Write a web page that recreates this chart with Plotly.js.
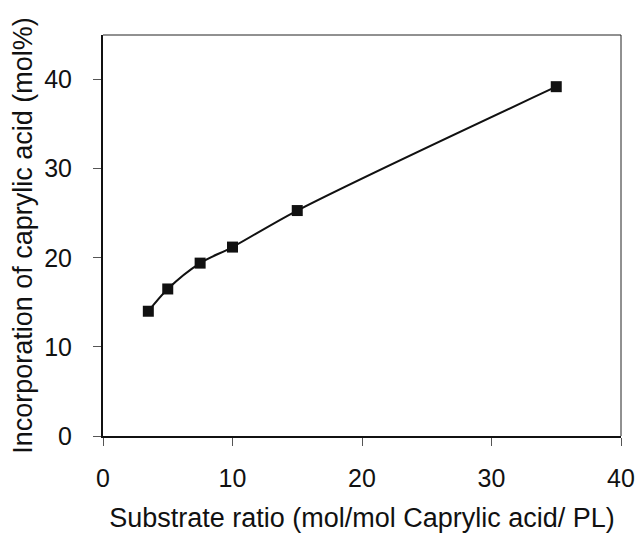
<!DOCTYPE html>
<html>
<head>
<meta charset="utf-8">
<script src="https://cdn.plot.ly/plotly-3.0.1.min.js"></script>
<style>html,body{margin:0;padding:0;background:#fff;}#chart{width:638px;height:535px;}</style>
</head>
<body>
<div id="chart"></div>
<script>
const substrateRatio = [3.5, 5, 7.5, 10, 15, 35];
const incorporation = [14.0, 16.5, 19.4, 21.2, 25.3, 39.2];
const xTicks = [0, 10, 20, 30, 40];
const yTicks = [0, 10, 20, 30, 40];

const FONT = 'Liberation Sans, Arial, Helvetica, sans-serif';

const trace = {
  x: substrateRatio,
  y: incorporation,
  type: 'scatter',
  mode: 'lines+markers',
  line: {color: '#111', width: 2, shape: 'spline', smoothing: 0.9},
  marker: {symbol: 'square', size: 11, color: '#111'},
  showlegend: false,
  hoverinfo: 'x+y'
};

const layout = {
  width: 638, height: 535,
  margin: {l: 103, r: 17, t: 35, b: 99},
  paper_bgcolor: '#fff', plot_bgcolor: '#fff',
  font: {family: FONT, color: '#111'},
  xaxis: {
    range: [0, 40], tickvals: xTicks, ticktext: xTicks.map(String),
    showgrid: false, zeroline: false,
    showline: true, linecolor: '#111', linewidth: 2, mirror: false,
    ticks: 'outside', ticklen: 8, tickwidth: 1, tickcolor: '#555',
    tickfont: {size: 25, family: FONT, color: '#111'},
    ticklabelstandoff: 11,
    title: {text: 'Substrate ratio (mol/mol Caprylic acid/ PL)', font: {size: 27, family: FONT, color: '#111'}, standoff: 17},
    automargin: false, fixedrange: true
  },
  yaxis: {
    range: [0, 45], tickvals: yTicks, ticktext: yTicks.map(String),
    showgrid: false, zeroline: false,
    showline: true, linecolor: '#111', linewidth: 2, mirror: false,
    ticks: 'outside', ticklen: 8, tickwidth: 1, tickcolor: '#555',
    tickfont: {size: 25, family: FONT, color: '#111'},
    ticklabelstandoff: 16,
    title: {text: 'Incorporation of caprylic acid (mol%)', font: {size: 27, family: FONT, color: '#111'}, standoff: 4},
    automargin: false, fixedrange: true
  },
  shapes: [
    {type: 'line', xref: 'paper', yref: 'paper', x0: 0, x1: 1, y0: 1, y1: 1, line: {color: '#222', width: 1}},
    {type: 'line', xref: 'paper', yref: 'paper', x0: 1, x1: 1, y0: 0, y1: 1, line: {color: '#222', width: 1}}
  ]
};

Plotly.newPlot('chart', [trace], layout, {displayModeBar: false, staticPlot: true});
</script>
</body>
</html>
